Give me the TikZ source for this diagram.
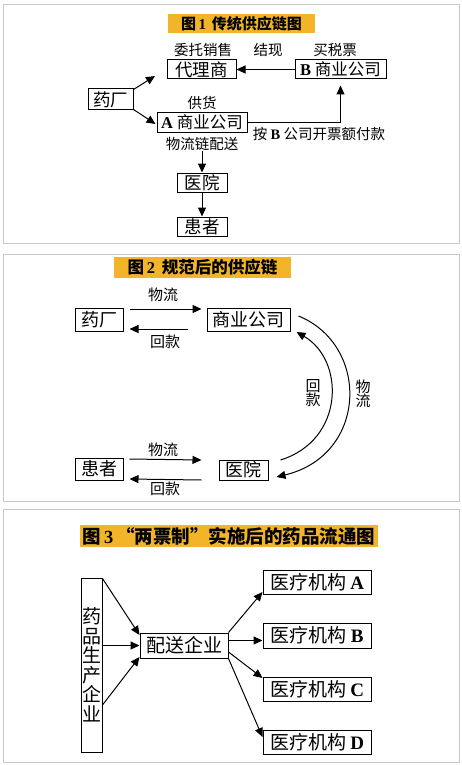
\documentclass[tikz,border=0pt]{standalone}
\usepackage{fontspec}
\setmainfont{Liberation Serif}
\newfontfamily\zhfont{Noto Sans CJK SC}
\newfontfamily\latnfont{Liberation Serif}
\newcommand\Lt[1]{{\latnfont\bfseries #1}}
\usetikzlibrary{arrows.meta,calc}
\definecolor{titleyellow}{HTML}{F2B52A}
\definecolor{framegray}{HTML}{C8C8C8}
\tikzset{
  fs/.style={font=\zhfont\fontsize{#1}{#1}\selectfont},
  box/.style={draw=black, line width=1pt, inner sep=0pt, fill=white},
  lbl/.style={inner sep=0pt, fs=14.5},
  ttl/.style={fill=titleyellow, inner sep=0pt, font=\zhfont\bfseries\fontsize{#1}{#1}\selectfont},
  arr/.style={line width=1pt, -{Triangle[length=9pt,width=8pt]}},
  frame/.style={draw=framegray, line width=0.9pt}
}
\begin{document}
\begin{tikzpicture}[x=1pt,y=-1pt]
\path[fill=white,use as bounding box] (0,0) rectangle (462,765);
\draw[frame] (3,4) rectangle (459,243);
\draw[frame] (3,254) rectangle (459,501);
\draw[frame] (3,509) rectangle (459,762);

% ---------- Panel 1 ----------
\node[ttl=15, minimum width=147pt, minimum height=19pt] (t1) at (241.5,23.5) {图\,\Lt{1}\, 传统供应链图};
\node[lbl] (l1) at (203,50) {委托销售};
\node[lbl] (l2) at (268,50) {结现};
\node[lbl] (l3) at (335,50) {买税票};
\node[box, fs=17.5, minimum width=69pt, minimum height=19pt] (dl) at (201.5,69.5) {代理商};
\node[box, fs=16.5, minimum width=91pt, minimum height=19pt] (bco) at (340.5,69.5) {\Lt{B} 商业公司};
\node[box, fs=17.5, minimum width=45pt, minimum height=21pt] (yc) at (110.5,99.5) {药厂};
\node[lbl] (l4) at (202,103) {供货};
\node[box, fs=16.5, minimum width=90pt, minimum height=19pt] (aco) at (202,122.5) {\Lt{A} 商业公司};
\node[lbl] (l5) at (202,144) {物流链配送};
\node[lbl] (l6) at (319,134) {按 \Lt{B} 公司开票额付款};
\node[box, fs=17.5, minimum width=50pt, minimum height=19pt] (yy) at (202,182.5) {医院};
\node[box, fs=17.5, minimum width=50pt, minimum height=19pt] (hz) at (202,226.5) {患者};
\coordinate (c1) at (155,76);
\draw[arr] ([yshift=-1pt]yc.north east) -- (c1);
\draw[arr] ([yshift=1pt]yc.south east) -- ([xshift=-1pt,yshift=-1.5pt]aco.west);
\draw[arr] (bco.west) -- (dl.east);
\draw[arr, shorten >=6pt] (aco.east) -| (bco.south);
\draw[arr] (l5.south) -- (yy.north);
\draw[arr] (yy.south) -- (hz.north);

% ---------- Panel 2 ----------
\node[ttl=16.5, minimum width=177pt, minimum height=21pt] (t2) at (202.5,267.5) {图\,\Lt{2}\, 规范后的供应链};
\node[box, fs=18, minimum width=48pt, minimum height=23pt] (yc2) at (99,319.5) {药厂};
\node[box, fs=18, minimum width=83pt, minimum height=23pt] (sy) at (248.5,319.5) {商业公司};
\node[box, fs=18, minimum width=48pt, minimum height=22pt] (hz2) at (99,469) {患者};
\node[box, fs=18, minimum width=49pt, minimum height=20pt] (yy2) at (243.5,470) {医院};
\node[lbl, fs=15] (m1) at (163,295) {物流};
\node[lbl, fs=15] (m2) at (165,342) {回款};
\node[lbl, fs=15] (m3) at (163,450) {物流};
\node[lbl, fs=15] (m4) at (165,489) {回款};
\node[lbl, fs=15, align=center] (m5) at (313,393.5) {回\\[-1pt]款};
\node[lbl, fs=15, align=center] (m6) at (363,393.5) {物\\[-1pt]流};
\draw[arr] ([xshift=6pt,yshift=10.5pt]yc2.east) -- ([xshift=-5pt,yshift=10.5pt]sy.west);
\draw[arr] ([xshift=-19pt,yshift=-9.5pt]sy.west) -- ([xshift=6pt,yshift=-9.5pt]yc2.east);
\draw[arr] ([xshift=6pt,yshift=10pt]hz2.east) -- ([xshift=-17pt,yshift=10pt]yy2.west);
\draw[arr] ([xshift=-17pt,yshift=-10pt]yy2.west) -- ([xshift=6pt,yshift=-10pt]hz2.east);
\draw[arr] ([xshift=8pt,yshift=3.5pt]sy.east) .. controls (370,345) and (368,455) .. ([xshift=8pt,yshift=-7pt]yy2.east);
\draw[arr] ([xshift=12pt,yshift=10pt]yy2.east) .. controls (345,440) and (345,360) .. ([xshift=6pt,yshift=-12.5pt]sy.east);

% ---------- Panel 3 ----------
\node[ttl=18.5, minimum width=298pt, minimum height=22pt] (t3) at (229,536) {图\,\Lt{3}\,“两票制”实施后的药品流通图};
\node[box, fs=19, minimum width=21pt, minimum height=174pt, align=center] (src) at (91.5,665) {药\\[0.5pt]品\\[0.5pt]生\\[0.5pt]产\\[0.5pt]企\\[0.5pt]业};
\node[box, fs=19, minimum width=88pt, minimum height=25pt] (ps) at (184,645.5) {配送企业};
\node[box, fs=19, minimum width=108pt, minimum height=24pt] (ma) at (317,582) {医疗机构 \Lt{A}};
\node[box, fs=19, minimum width=108pt, minimum height=25pt] (mb) at (317,635.5) {医疗机构 \Lt{B}};
\node[box, fs=19, minimum width=108pt, minimum height=24pt] (mc) at (317,689) {医疗机构 \Lt{C}};
\node[box, fs=19, minimum width=108pt, minimum height=24pt] (md) at (317,742) {医疗机构 \Lt{D}};
\draw[arr] ([yshift=-1pt]src.north east) -- ([yshift=10.5pt]ps.west);
\draw[arr] (src.east |- ps.west) -- (ps.west);
\draw[arr] ([yshift=-40pt]src.east) -- ([yshift=-11.5pt]ps.west);
\draw[arr] (ps.north east) -- ([yshift=-10pt]ma.west);
\draw[arr] ([yshift=5pt]ps.east) -- ([yshift=-5pt]mb.west);
\draw[arr] ([yshift=-6.5pt]ps.east) -- ([yshift=11pt]mc.west);
\draw[arr] (ps.south east) -- ([yshift=5pt]md.west);
\end{tikzpicture}
\end{document}
